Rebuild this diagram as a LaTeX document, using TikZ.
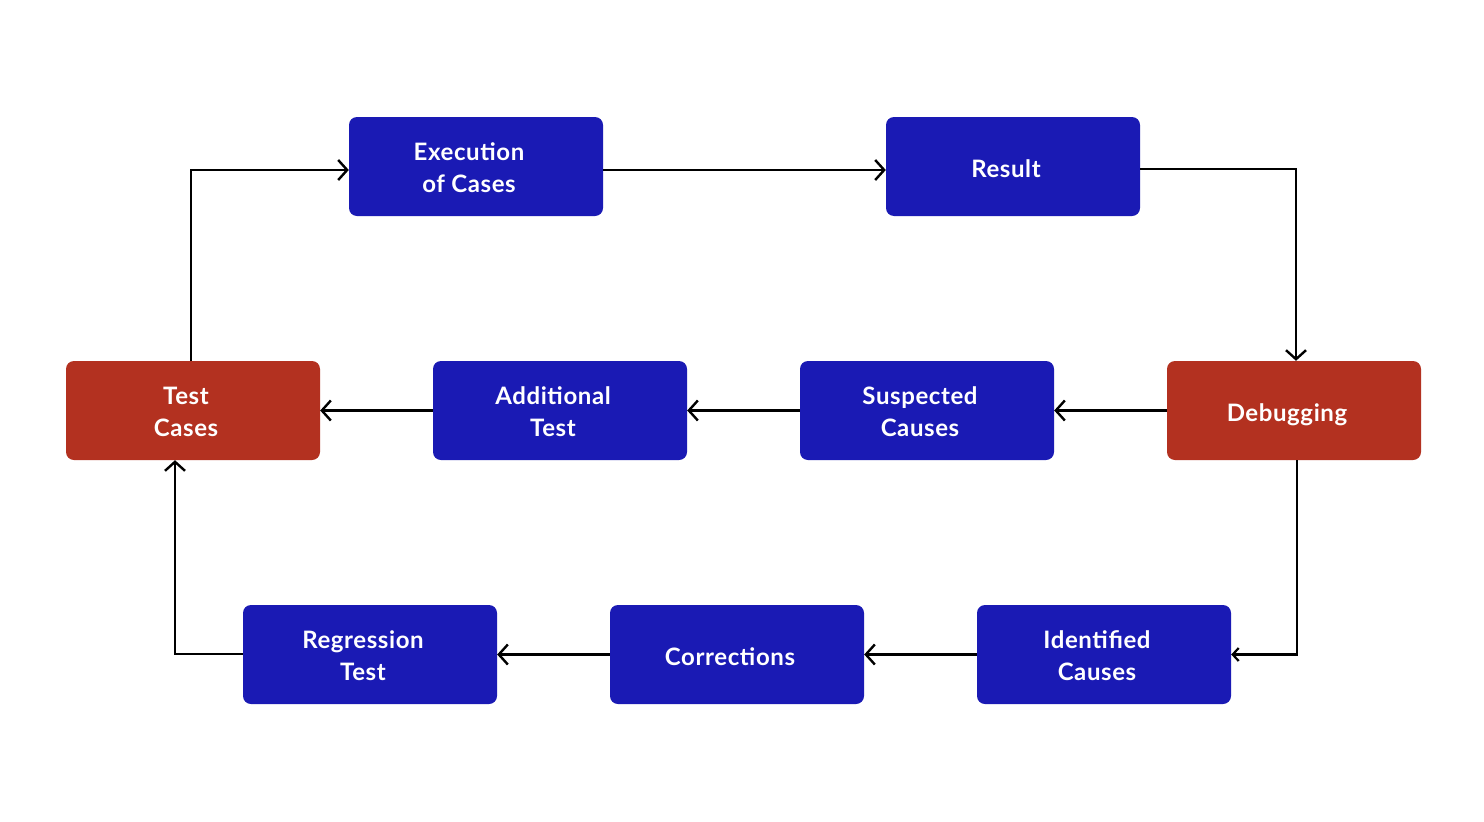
\documentclass[tikz,border=0pt]{standalone}
\usepackage{fontspec}
\setmainfont{Lato}[UprightFont=* Bold,LetterSpace=2.5]
\usetikzlibrary{arrows.meta}
\definecolor{bblue}{HTML}{1A1AB4}
\definecolor{rred}{HTML}{B33120}
\begin{document}
\begin{tikzpicture}[x=1pt,y=-1pt,
  box/.style={rounded corners=8pt,minimum width=254pt,minimum height=99pt,inner sep=0pt,draw=none},
  bluebox/.style={box,fill=bblue},
  redbox/.style={box,fill=rred},
  lbl/.style={text=white,font=\fontsize{24pt}{32pt}\selectfont,align=center,inner sep=0pt},
  conn/.style={line width=2.6pt,-{Straight Barb[length=9pt,width=20pt,line width=2.4pt]}},
  conns/.style={line width=2.6pt,-{Straight Barb[length=6pt,width=13pt,line width=2.2pt]}}]
\useasboundingbox (0,0) rectangle (1484,822);
\fill[white] (0,0) rectangle (1484,822);
% boxes
\node[bluebox] (exec) at (476,166.5) {};
\node[bluebox] (res) at (1013,166.5) {};
\node[redbox] (tc) at (193,410.5) {};
\node[bluebox] (add) at (560,410.5) {};
\node[bluebox] (sus) at (927,410.5) {};
\node[redbox] (dbg) at (1294,410.5) {};
\node[bluebox] (reg) at (370,654.5) {};
\node[bluebox] (cor) at (737,654.5) {};
\node[bluebox] (idc) at (1104,654.5) {};
% labels
\node[lbl] (execT) at ([xshift=-7pt,yshift=-1.5pt]exec.center) {Execution\\of Cases};
\node[lbl] (resT) at ([xshift=-7pt,yshift=-2.5pt]res.center) {Result};
\node[lbl] (tcT) at ([xshift=-7pt,yshift=-1.5pt]tc.center) {Test\\Cases};
\node[lbl] (addT) at ([xshift=-7pt,yshift=-1.5pt]add.center) {Additional\\Test};
\node[lbl] (susT) at ([xshift=-7pt,yshift=-1.5pt]sus.center) {Suspected\\Causes};
\node[lbl] (dbgT) at ([xshift=-7pt,yshift=-4.5pt]dbg.center) {Debugging};
\node[lbl] (regT) at ([xshift=-7pt,yshift=-1.5pt]reg.center) {Regression\\Test};
\node[lbl] (corT) at ([xshift=-7pt,yshift=-2.5pt]cor.center) {Corrections};
\node[lbl] (idcT) at ([xshift=-7pt,yshift=-1.5pt]idc.center) {Identified\\Causes};
% connectors
\draw[conn] ([xshift=-2pt]tc.north) |- ([yshift=-3.5pt]exec.west);
\draw[conn] ([yshift=-3.5pt]exec.east) -- ([yshift=-3.5pt]res.west);
\draw[conn] ([yshift=-2.5pt]res.east) -| ([xshift=2pt]dbg.north);
\draw[conn] (dbg.west) -- (sus.east);
\draw[conn] (sus.west) -- (add.east);
\draw[conn] (add.west) -- (tc.east);
\draw[conns] ([xshift=3pt]dbg.south) |- (idc.east);
\draw[conn] (idc.west) -- (cor.east);
\draw[conn] (cor.west) -- (reg.east);
\draw[conn] ([yshift=0.5pt]reg.west) -| ([xshift=-18pt]tc.south);
\end{tikzpicture}
\end{document}
